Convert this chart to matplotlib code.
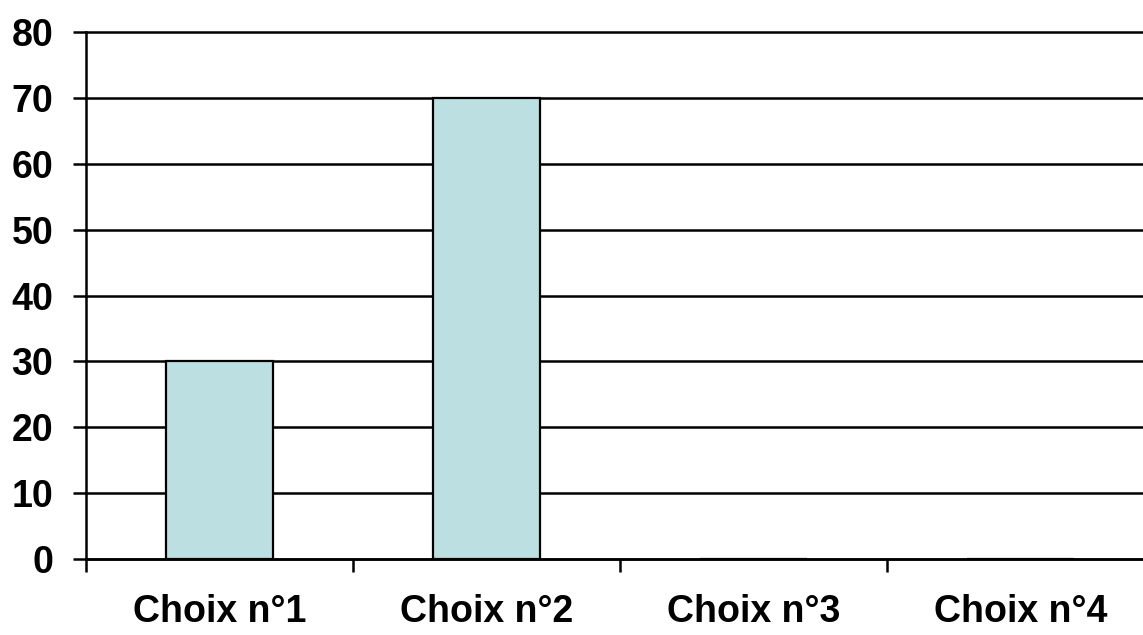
import matplotlib
matplotlib.use("Agg")
import matplotlib.pyplot as plt

categories = ["Choix n°1", "Choix n°2", "Choix n°3", "Choix n°4"]
values = [30, 70, 0, 0]
yticks = [0, 10, 20, 30, 40, 50, 60, 70, 80]

plt.rcParams["font.family"] = ["Liberation Sans", "DejaVu Sans"]

fig = plt.figure(figsize=(11.43, 6.35), dpi=100)
# The plotting area runs slightly past the right edge of the figure
ax = fig.add_axes([86 / 1143, 1 - 559 / 635, 1068 / 1143, (559 - 32) / 635])

x = list(range(len(categories)))
ax.bar(x, values, width=0.40, color="#bce0e2", edgecolor="black", linewidth=1.6, zorder=3)

ax.set_xlim(-0.5, len(categories) - 0.5)
ax.set_ylim(0, 80)
ax.set_yticks(yticks)
ax.set_yticklabels([str(v) for v in yticks], fontsize=27, fontweight="bold")
ax.yaxis.grid(True, color="black", linewidth=1.8, zorder=0)
for gl in ax.get_ygridlines():
    gl.set_clip_on(False)
ax.set_axisbelow(True)

# Category ticks sit on the boundaries between groups; labels centred beneath
ax.set_xticks([i - 0.5 for i in range(len(categories) + 1)])
ax.set_xticklabels([])
ax.set_xticks(x, minor=True)
ax.set_xticklabels(categories, minor=True, fontsize=27, fontweight="bold")
ax.tick_params(axis="x", which="minor", length=0, pad=25)
ax.tick_params(axis="x", which="major", length=9, width=1.8, direction="out")
ax.tick_params(axis="y", length=9.5, width=1.8, direction="out", pad=14)

for side in ["top", "right"]:
    ax.spines[side].set_visible(False)
for side in ["left", "bottom"]:
    ax.spines[side].set_linewidth(1.8)

fig.savefig("out.png", dpi=100)
